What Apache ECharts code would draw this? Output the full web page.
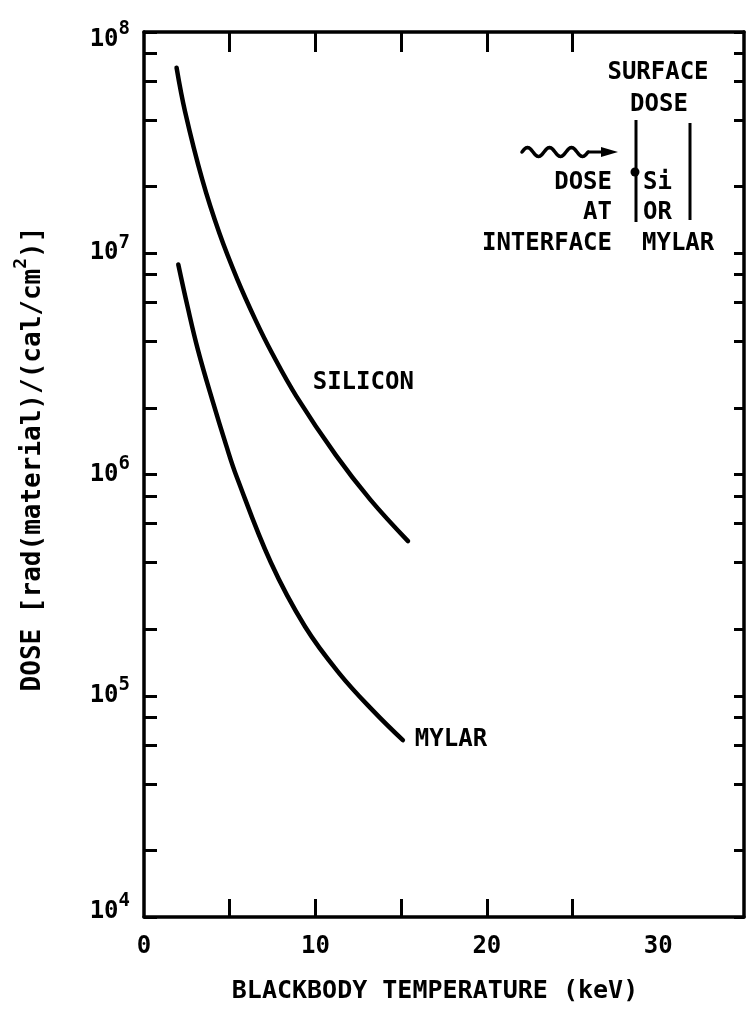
<!DOCTYPE html>
<html>
<head>
<meta charset="utf-8">
<title>Dose vs blackbody temperature</title>
<script src="https://cdn.jsdelivr.net/npm/echarts@6/dist/echarts.min.js"></script>
<style>
  html, body { margin: 0; padding: 0; background: #ffffff; }
  #chart { width: 748px; height: 1014px; }
</style>
</head>
<body>
<div id="chart"></div>
<script>
// Blackbody temperature (keV) and dose for each material
const siliconTemp = [1.9, 2.4, 3.4, 4.4, 5.45, 6.5, 7.45, 8.9, 11.2, 13.2, 15.4];
const siliconDose = [6.9e7, 4.35e7, 2.15e7, 1.23e7, 7.6e6, 5.0e6, 3.56e6, 2.25e6, 1.22e6, 7.7e5, 5.0e5];
const mylarTemp = [2.0, 2.55, 3.15, 4.0, 4.8, 5.4, 7.4, 9.4, 11.4, 13.4, 15.1];
const mylarDose = [8.9e6, 5.7e6, 3.65e6, 2.15e6, 1.35e6, 9.8e5, 4.0e5, 2.05e5, 1.26e5, 8.5e4, 6.3e4];

// Axis ticks and labels
const tempTicks = [5, 10, 15, 20, 25];
const tempLabels = [0, 10, 20, 30];
const doseDecades = [1e4, 1e5, 1e6, 1e7, 1e8];
const doseMinorTicks = [2e4, 4e4, 6e4, 8e4, 2e5, 4e5, 6e5, 8e5, 2e6, 4e6, 6e6, 8e6, 2e7, 4e7, 6e7, 8e7];

// Text
const xTitle = 'BLACKBODY TEMPERATURE (keV)';
const siliconName = 'SILICON';
const mylarName = 'MYLAR';
const siliconLabelAt = [9.84, 2.59e6];

const FONT = "'DejaVu Sans Mono', monospace";
const WEIGHT = 'bold';
const INK = '#000000';

function zip(xs, ys) { return xs.map((x, i) => [x, ys[i]]); }

// Decade label "10" with a raised exponent; the end labels sit slightly inward
function decadeLabel(v) {
  const exp = Math.round(Math.log10(v));
  const body = '{b|10}{e|' + exp + '}';
  if (v === doseDecades[doseDecades.length - 1]) return '{sp| }\n' + body;
  if (v === doseDecades[0]) return body + '\n{sq| }';
  return body;
}

// Small wavy arrow used in the surface / interface inset
function wavePoints(x0, y0, halfWaves, halfLen, amp) {
  const pts = [];
  const steps = halfWaves * 12;
  for (let i = 0; i <= steps; i++) {
    const t = i / steps;
    pts.push([x0 + t * halfWaves * halfLen, y0 - amp * Math.sin(Math.PI * t * halfWaves)]);
  }
  return pts;
}

function insetText(text, x, y, align) {
  return {
    type: 'text', x: x, y: y,
    style: { text: text, fontFamily: FONT, fontWeight: WEIGHT, fontSize: 24, fill: INK,
             align: align, verticalAlign: 'middle' }
  };
}

const chart = echarts.init(document.getElementById('chart'), null, { renderer: 'canvas' });

const axisLineStyle = { color: INK, width: 3.5 };
const tickStyle = { color: INK, width: 3 };
const curveStyle = { color: INK, width: 4.5, cap: 'round', join: 'round' };

const option = {
  backgroundColor: '#ffffff',
  animation: false,
  grid: { left: 144, right: 4, top: 32, bottom: 97, containLabel: false, outerBoundsMode: 'none' },
  xAxis: [
    {
      type: 'value', position: 'bottom', min: 0, max: 35, interval: 5,
      name: xTitle, nameLocation: 'middle', nameGap: 62,
      nameTextStyle: { fontFamily: FONT, fontWeight: WEIGHT, fontSize: 25, color: INK, padding: [0, 18, 0, 0] },
      axisLine: { show: true, onZero: false, lineStyle: axisLineStyle },
      axisTick: { show: true, inside: true, length: 18, lineStyle: tickStyle, customValues: tempTicks },
      axisLabel: { show: true, customValues: tempLabels, fontFamily: FONT, fontWeight: WEIGHT,
                   fontSize: 24, color: INK, margin: 18 },
      splitLine: { show: false }
    },
    {
      type: 'value', position: 'top', min: 0, max: 35, interval: 5,
      axisLine: { show: true, onZero: false, lineStyle: axisLineStyle },
      axisTick: { show: true, inside: true, length: 20, lineStyle: tickStyle, customValues: tempTicks },
      axisLabel: { show: false },
      splitLine: { show: false }
    }
  ],
  yAxis: [
    {
      type: 'log', logBase: 10, position: 'left', min: 1e4, max: 1e8,
      name: '{t|DOSE [rad(material)/(cal/cm}{s|2}{t|)]}',
      nameLocation: 'middle', nameRotate: 90, nameGap: 98,
      nameTextStyle: {
        padding: [0, 0, 0, 31],
        rich: {
          t: { fontFamily: FONT, fontWeight: WEIGHT, fontSize: 26, color: INK, lineHeight: 34, verticalAlign: 'bottom' },
          s: { fontFamily: FONT, fontWeight: WEIGHT, fontSize: 18, color: INK, lineHeight: 20, verticalAlign: 'top' }
        }
      },
      axisLine: { show: true, onZero: false, lineStyle: axisLineStyle },
      axisTick: { show: true, inside: true, length: 13, lineStyle: tickStyle,
                  customValues: doseDecades.concat(doseMinorTicks) },
      axisLabel: {
        show: true, customValues: doseDecades, margin: 14,
        formatter: decadeLabel,
        rich: {
          b: { fontFamily: FONT, fontWeight: WEIGHT, fontSize: 24, color: INK, lineHeight: 40, verticalAlign: 'middle' },
          e: { fontFamily: FONT, fontWeight: WEIGHT, fontSize: 19, color: INK, lineHeight: 19, verticalAlign: 'top' },
          sp: { fontSize: 10, lineHeight: 15 },
          sq: { fontSize: 8, lineHeight: 10 }
        }
      },
      splitLine: { show: false },
      minorTick: { show: false }
    },
    {
      type: 'log', logBase: 10, position: 'right', min: 1e4, max: 1e8,
      axisLine: { show: true, onZero: false, lineStyle: axisLineStyle },
      axisTick: { show: true, inside: true, length: 10, lineStyle: tickStyle,
                  customValues: doseDecades.concat(doseMinorTicks) },
      axisLabel: { show: false },
      splitLine: { show: false }
    }
  ],
  series: [
    {
      name: siliconName,
      type: 'line',
      data: zip(siliconTemp, siliconDose),
      smooth: 0.4,
      showSymbol: false,
      lineStyle: curveStyle,
      markPoint: {
        symbol: 'circle', symbolSize: 0,
        label: { show: true, position: 'right', distance: 0, fontFamily: FONT, fontWeight: WEIGHT,
                 fontSize: 24, color: INK, formatter: siliconName },
        data: [{ coord: siliconLabelAt }]
      }
    },
    {
      name: mylarName,
      type: 'line',
      data: zip(mylarTemp, mylarDose),
      smooth: 0.4,
      showSymbol: false,
      lineStyle: curveStyle,
      endLabel: { show: true, formatter: mylarName, distance: 12, fontFamily: FONT, fontWeight: WEIGHT,
                  fontSize: 24, color: INK }
    }
  ],
  graphic: [
    {
      type: 'group',
      children: [
        insetText('SURFACE', 658, 73, 'center'),
        insetText('DOSE', 659, 105, 'center'),
        { type: 'line', shape: { x1: 636, y1: 120, x2: 636, y2: 222 }, style: { stroke: INK, lineWidth: 3 } },
        { type: 'line', shape: { x1: 690, y1: 123, x2: 690, y2: 220 }, style: { stroke: INK, lineWidth: 3 } },
        { type: 'circle', shape: { cx: 635, cy: 172, r: 4.5 }, style: { fill: INK } },
        { type: 'polyline', shape: { points: wavePoints(522, 152, 6, 11, 4.5) },
          style: { stroke: INK, lineWidth: 3.5, fill: null, lineCap: 'round', lineJoin: 'round' } },
        { type: 'line', shape: { x1: 588, y1: 152, x2: 606, y2: 152 }, style: { stroke: INK, lineWidth: 3 } },
        { type: 'polygon', shape: { points: [[601, 147], [618, 152], [601, 157]] }, style: { fill: INK } },
        insetText('DOSE', 612, 183, 'right'),
        insetText('AT', 612, 213, 'right'),
        insetText('INTERFACE', 612, 244, 'right'),
        insetText('Si', 643, 183, 'left'),
        insetText('OR', 643, 213, 'left'),
        insetText('MYLAR', 642, 244, 'left')
      ]
    }
  ]
};

chart.setOption(option);
</script>
</body>
</html>
